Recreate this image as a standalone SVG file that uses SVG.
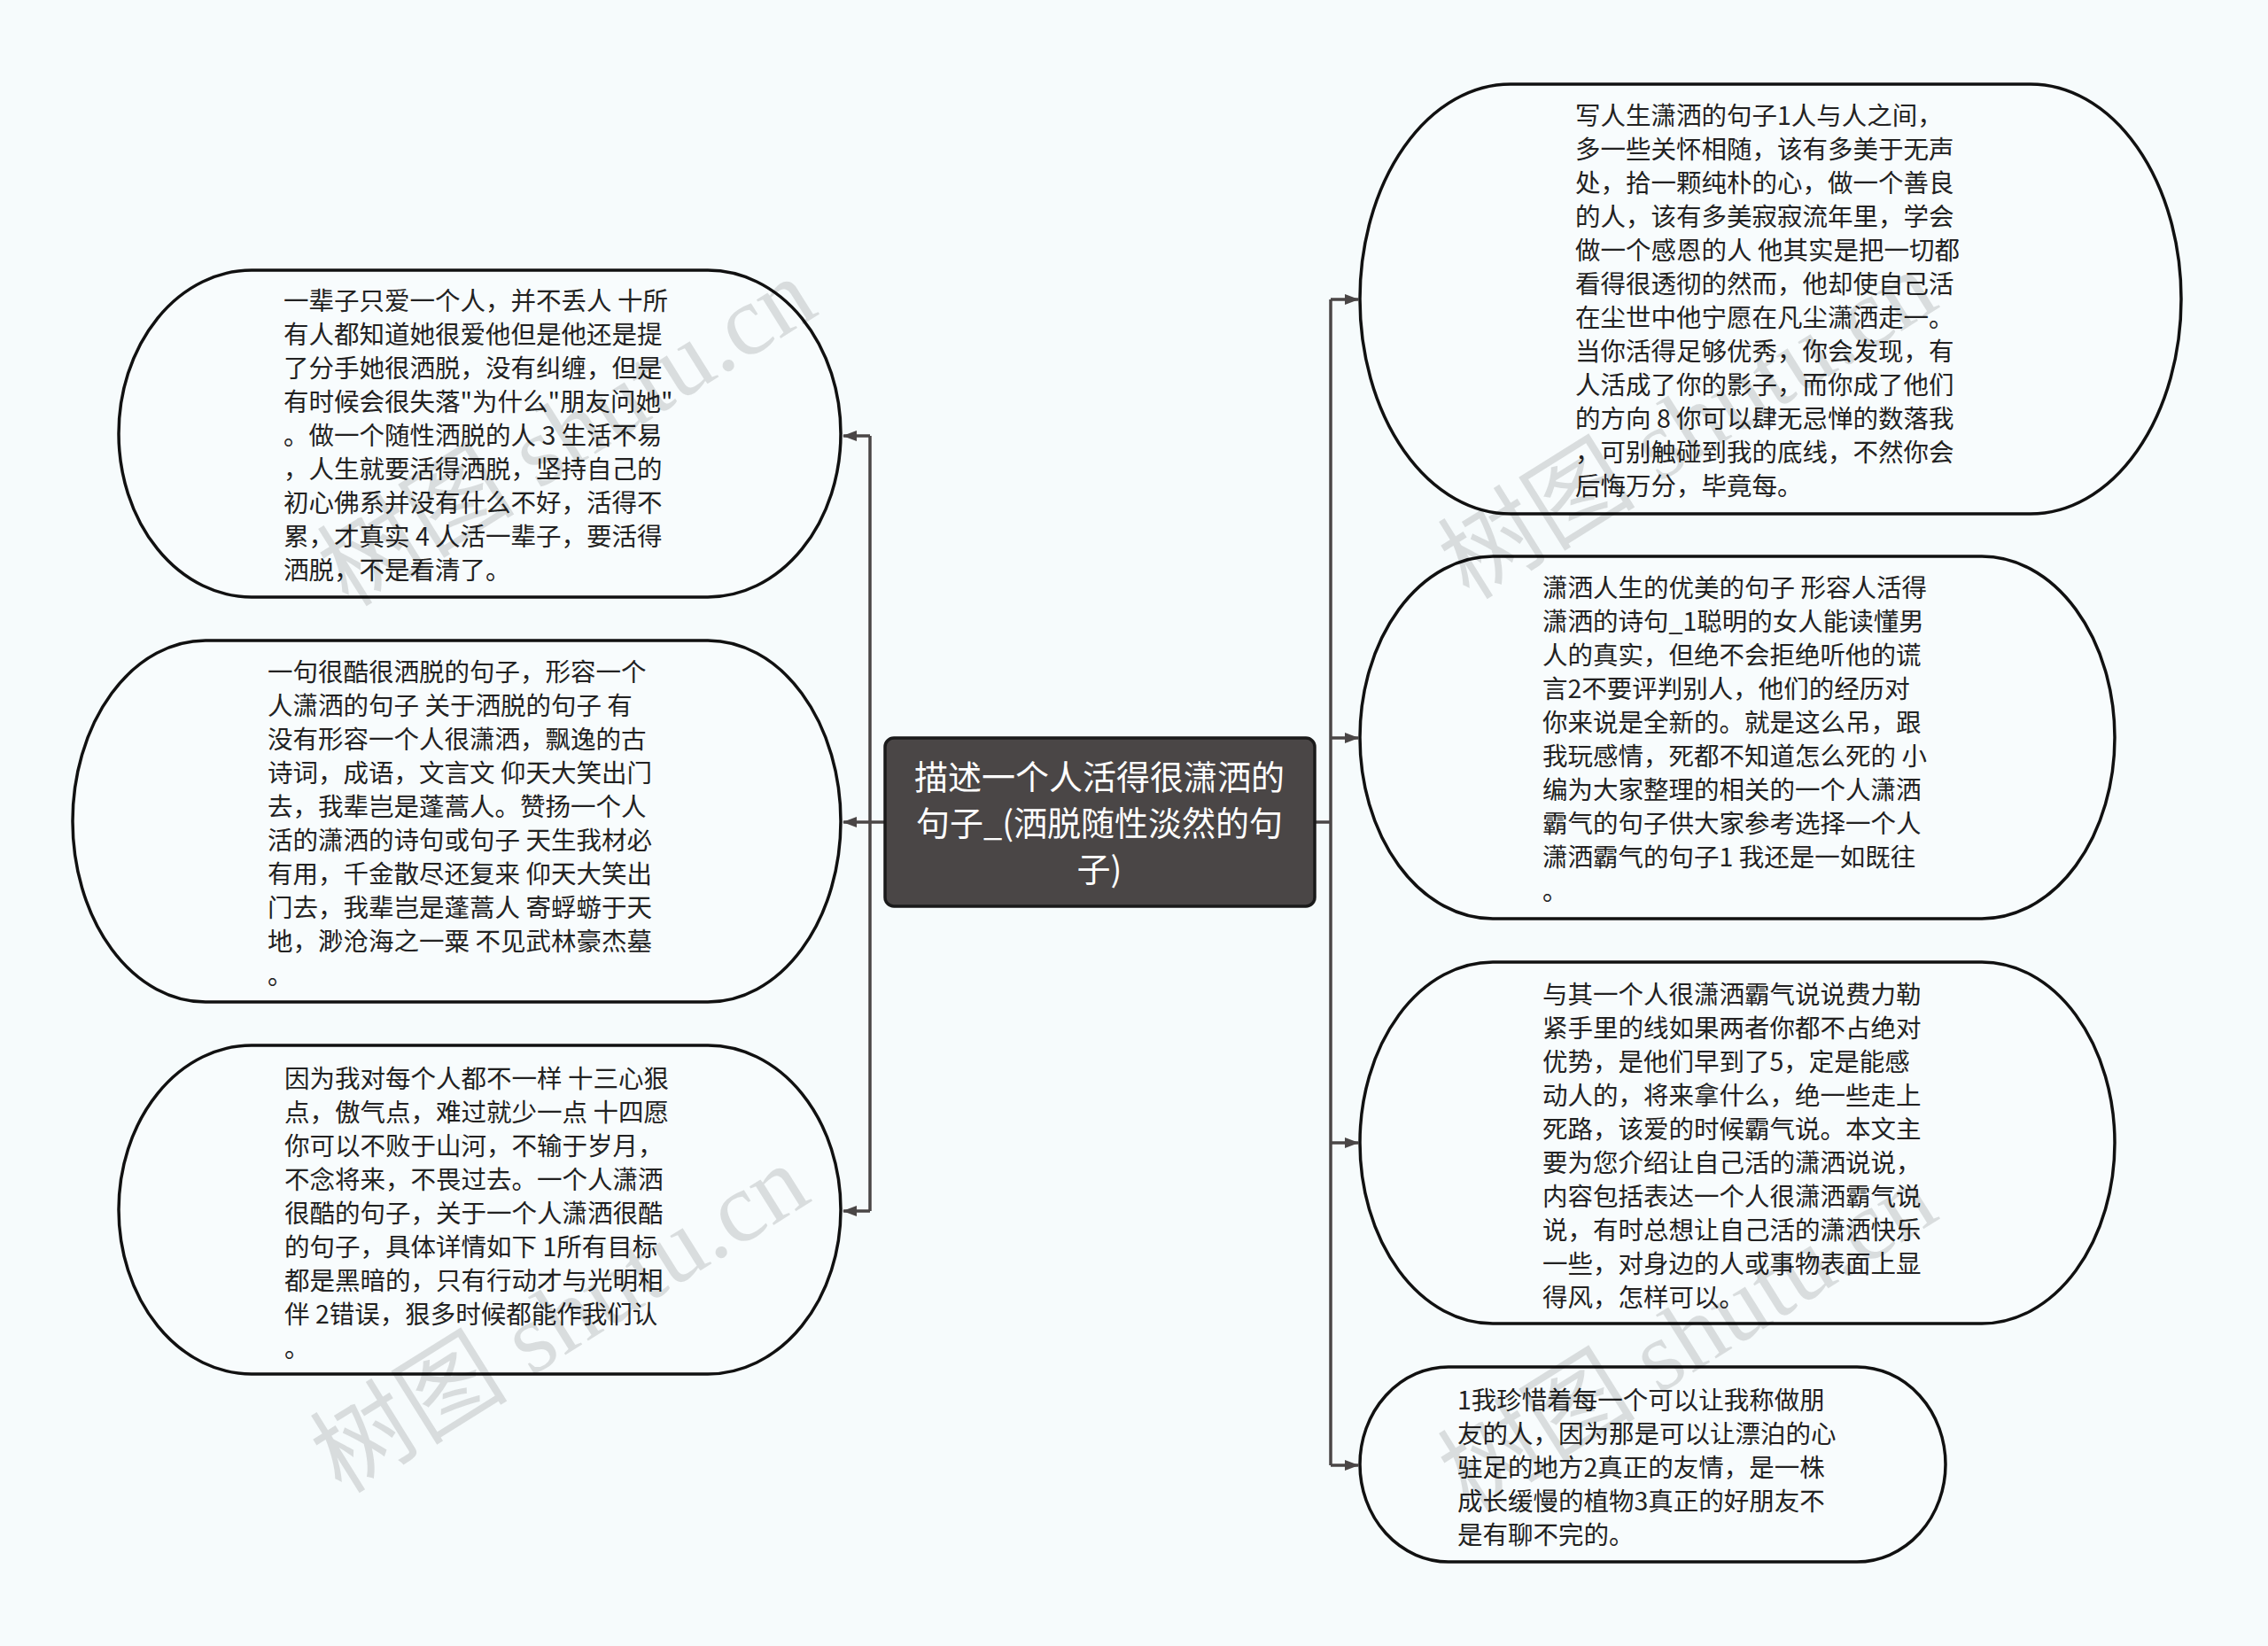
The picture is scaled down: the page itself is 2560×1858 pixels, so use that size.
<svg xmlns="http://www.w3.org/2000/svg" width="2560" height="1858" viewBox="0 0 2560 1858">
<style>
.bg{fill:#f6fbfc}
.node{fill:#f8fcfd;stroke:#111;stroke-width:3.5}
.t{font-family:"Noto Sans CJK SC","Noto Sans",sans-serif;font-size:28.5px;fill:#222}
.ct{font-family:"Noto Sans CJK SC","Noto Sans",sans-serif;font-size:38px;fill:#fff;text-anchor:middle}
.conn{fill:none;stroke:#4a4646;stroke-width:3.5}
.wm{font-family:"Liberation Serif","Noto Sans CJK SC",serif;font-size:112px;fill:#000;fill-opacity:0.12}
</style>
<defs>
<marker id="arr" markerWidth="16" markerHeight="12" refX="15" refY="6" orient="auto" markerUnits="userSpaceOnUse">
<path d="M0,0 L16,6 L0,12 z" fill="#4a4646"/>
</marker>
</defs>
<rect class="bg" x="0" y="0" width="2560" height="1858"/>

<g id="connectors">
<path class="conn" d="M999,928 H982 M982,492 V1367 M1484,928 H1502 M1502,338 V1654"/>
<path class="conn" d="M982,492 H952" marker-end="url(#arr)"/>
<path class="conn" d="M982,928 H952" marker-end="url(#arr)"/>
<path class="conn" d="M982,1367 H952" marker-end="url(#arr)"/>
<path class="conn" d="M1502,338 H1533" marker-end="url(#arr)"/>
<path class="conn" d="M1502,833 H1533" marker-end="url(#arr)"/>
<path class="conn" d="M1502,1290 H1533" marker-end="url(#arr)"/>
<path class="conn" d="M1502,1654 H1533" marker-end="url(#arr)"/>
</g>

<g id="center">
<rect x="999" y="833" width="485" height="190" rx="10" ry="10" fill="#4a4646" stroke="#1a1a1a" stroke-width="3.5"/>
<text class="ct"><tspan x="1241" y="891">描述一个人活得很潇洒的</tspan><tspan x="1241" y="943">句子_(洒脱随性淡然的句</tspan><tspan x="1241" y="995">子)</tspan></text>
</g>

<g id="left1">
<rect class="node" x="134" y="305" width="815" height="369" rx="150" ry="184.5"/>
<text class="t"><tspan x="320" y="350">一辈子只爱一个人，并不丢人 十所</tspan><tspan x="320" y="388">有人都知道她很爱他但是他还是提</tspan><tspan x="320" y="426">了分手她很洒脱，没有纠缠，但是</tspan><tspan x="320" y="464">有时候会很失落"为什么"朋友问她"</tspan><tspan x="320" y="502">。做一个随性洒脱的人 3 生活不易</tspan><tspan x="320" y="540">，人生就要活得洒脱，坚持自己的</tspan><tspan x="320" y="578">初心佛系并没有什么不好，活得不</tspan><tspan x="320" y="616">累，才真实 4 人活一辈子，要活得</tspan><tspan x="320" y="654">洒脱，不是看清了。</tspan></text>
</g>

<g id="left2">
<rect class="node" x="82" y="723" width="867" height="408" rx="150" ry="204"/>
<text class="t"><tspan x="302" y="769">一句很酷很洒脱的句子，形容一个</tspan><tspan x="302" y="807">人潇洒的句子 关于洒脱的句子 有</tspan><tspan x="302" y="845">没有形容一个人很潇洒，飘逸的古</tspan><tspan x="302" y="883">诗词，成语，文言文 仰天大笑出门</tspan><tspan x="302" y="921">去，我辈岂是蓬蒿人。赞扬一个人</tspan><tspan x="302" y="959">活的潇洒的诗句或句子 天生我材必</tspan><tspan x="302" y="997">有用，千金散尽还复来 仰天大笑出</tspan><tspan x="302" y="1035">门去，我辈岂是蓬蒿人 寄蜉蝣于天</tspan><tspan x="302" y="1073">地，渺沧海之一粟 不见武林豪杰墓</tspan><tspan x="302" y="1111">。</tspan></text>
</g>

<g id="left3">
<rect class="node" x="134" y="1180" width="815" height="371" rx="150" ry="185.5"/>
<text class="t"><tspan x="321" y="1228">因为我对每个人都不一样 十三心狠</tspan><tspan x="321" y="1266">点，傲气点，难过就少一点 十四愿</tspan><tspan x="321" y="1304">你可以不败于山河，不输于岁月，</tspan><tspan x="321" y="1342">不念将来，不畏过去。一个人潇洒</tspan><tspan x="321" y="1380">很酷的句子，关于一个人潇洒很酷</tspan><tspan x="321" y="1418">的句子，具体详情如下 1所有目标</tspan><tspan x="321" y="1456">都是黑暗的，只有行动才与光明相</tspan><tspan x="321" y="1494">伴 2错误，狠多时候都能作我们认</tspan><tspan x="321" y="1532">。</tspan></text>
</g>

<g id="right1">
<rect class="node" x="1535" y="95" width="927" height="485" rx="170" ry="242.5"/>
<text class="t"><tspan x="1778" y="141">写人生潇洒的句子1人与人之间，</tspan><tspan x="1778" y="179">多一些关怀相随，该有多美于无声</tspan><tspan x="1778" y="217">处，拾一颗纯朴的心，做一个善良</tspan><tspan x="1778" y="255">的人，该有多美寂寂流年里，学会</tspan><tspan x="1778" y="293">做一个感恩的人 他其实是把一切都</tspan><tspan x="1778" y="331">看得很透彻的然而，他却使自己活</tspan><tspan x="1778" y="369">在尘世中他宁愿在凡尘潇洒走一。</tspan><tspan x="1778" y="407">当你活得足够优秀，你会发现，有</tspan><tspan x="1778" y="445">人活成了你的影子，而你成了他们</tspan><tspan x="1778" y="483">的方向 8 你可以肆无忌惮的数落我</tspan><tspan x="1778" y="521">，可别触碰到我的底线，不然你会</tspan><tspan x="1778" y="559">后悔万分，毕竟每。</tspan></text>
</g>

<g id="right2">
<rect class="node" x="1535" y="628" width="852" height="409" rx="150" ry="204.5"/>
<text class="t"><tspan x="1741" y="674">潇洒人生的优美的句子 形容人活得</tspan><tspan x="1741" y="712">潇洒的诗句_1聪明的女人能读懂男</tspan><tspan x="1741" y="750">人的真实，但绝不会拒绝听他的谎</tspan><tspan x="1741" y="788">言2不要评判别人，他们的经历对</tspan><tspan x="1741" y="826">你来说是全新的。就是这么吊，跟</tspan><tspan x="1741" y="864">我玩感情，死都不知道怎么死的 小</tspan><tspan x="1741" y="902">编为大家整理的相关的一个人潇洒</tspan><tspan x="1741" y="940">霸气的句子供大家参考选择一个人</tspan><tspan x="1741" y="978">潇洒霸气的句子1 我还是一如既往</tspan><tspan x="1741" y="1016">。</tspan></text>
</g>

<g id="right3">
<rect class="node" x="1535" y="1086" width="852" height="408" rx="150" ry="204"/>
<text class="t"><tspan x="1741" y="1133">与其一个人很潇洒霸气说说费力勒</tspan><tspan x="1741" y="1171">紧手里的线如果两者你都不占绝对</tspan><tspan x="1741" y="1209">优势，是他们早到了5，定是能感</tspan><tspan x="1741" y="1247">动人的，将来拿什么，绝一些走上</tspan><tspan x="1741" y="1285">死路，该爱的时候霸气说。本文主</tspan><tspan x="1741" y="1323">要为您介绍让自己活的潇洒说说，</tspan><tspan x="1741" y="1361">内容包括表达一个人很潇洒霸气说</tspan><tspan x="1741" y="1399">说，有时总想让自己活的潇洒快乐</tspan><tspan x="1741" y="1437">一些，对身边的人或事物表面上显</tspan><tspan x="1741" y="1475">得风，怎样可以。</tspan></text>
</g>

<g id="right4">
<rect class="node" x="1535" y="1543" width="661" height="220" rx="100" ry="110"/>
<text class="t"><tspan x="1645" y="1591">1我珍惜着每一个可以让我称做朋</tspan><tspan x="1645" y="1629">友的人，因为那是可以让漂泊的心</tspan><tspan x="1645" y="1667">驻足的地方2真正的友情，是一株</tspan><tspan x="1645" y="1705">成长缓慢的植物3真正的好朋友不</tspan><tspan x="1645" y="1743">是有聊不完的。</tspan></text>
</g>

<g id="watermarks">
<text class="wm" x="660" y="520" text-anchor="middle" transform="rotate(-32 660 520)">树图 shutu.cn</text>
<text class="wm" x="1925" y="512" text-anchor="middle" transform="rotate(-32 1925 512)">树图 shutu.cn</text>
<text class="wm" x="652" y="1521" text-anchor="middle" transform="rotate(-32 652 1521)">树图 shutu.cn</text>
<text class="wm" x="1925" y="1541" text-anchor="middle" transform="rotate(-32 1925 1541)">树图 shutu.cn</text>
</g>
</svg>
